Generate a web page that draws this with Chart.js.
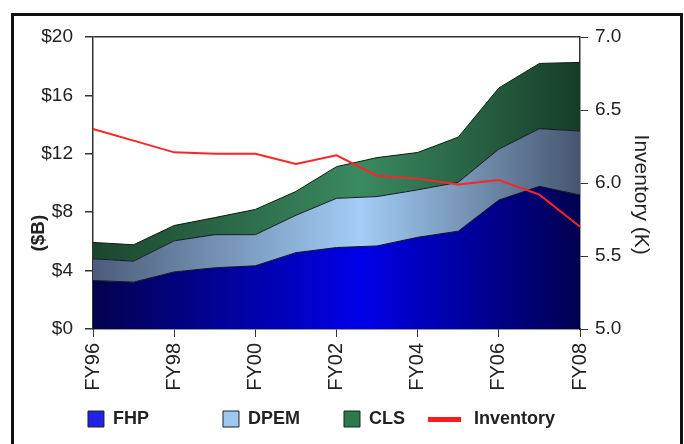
<!DOCTYPE html>
<html>
<head>
<meta charset="utf-8">
<script src="https://cdn.jsdelivr.net/npm/chart.js@4.4.0/dist/chart.umd.min.js"></script>
<style>
  html, body { margin: 0; padding: 0; background: #fff; }
  body { width: 684px; height: 444px; position: relative; overflow: hidden; }
  .frame { position: absolute; left: 11px; top: 13px; width: 666px; height: 440px; border: 3px solid #111; }
  .wrap { position: absolute; left: 0; top: 0; width: 684px; height: 444px; }
</style>
</head>
<body>
<div class="frame"></div>
<div class="wrap"><canvas id="chart"></canvas></div>
<script>
const years = ['FY96', 'FY97', 'FY98', 'FY99', 'FY00', 'FY01', 'FY02', 'FY03', 'FY04', 'FY05', 'FY06', 'FY07', 'FY08']
const fhp = [3.32, 3.21, 3.91, 4.19, 4.33, 5.23, 5.58, 5.69, 6.28, 6.70, 8.83, 9.77, 9.18]
const dpem = [1.49, 1.44, 2.13, 2.27, 2.13, 2.56, 3.37, 3.38, 3.25, 3.35, 3.49, 3.95, 4.38]
const cls = [1.12, 1.12, 1.05, 1.17, 1.73, 1.63, 2.17, 2.67, 2.56, 3.09, 4.19, 4.47, 4.70]
const inventory = [6.37, 6.29, 6.21, 6.20, 6.20, 6.13, 6.19, 6.05, 6.03, 5.99, 6.02, 5.92, 5.70]

const font = "'Liberation Sans', Arial, sans-serif"
const ink = '#222'

// horizontal shading, dark at both ends and light in the middle
const gradient = (left, mid, right) => (context) => {
    const area = context.chart.chartArea
    if (!area) return mid
    const g = context.chart.ctx.createLinearGradient(area.left, 0, area.right, 0)
    g.addColorStop(0, left)
    g.addColorStop(0.55, mid)
    g.addColorStop(1, right)
    return g
}

// legend mark for the red line, offset so it sits left of the text
const invMark = document.createElement('canvas')
invMark.width = 58
invMark.height = 5
const m = invMark.getContext('2d')
m.fillStyle = '#ff1a1a'
m.fillRect(0, 0, 33, 5)

const legendFill = ['#2222e6', '#9cc9f2', '#2a7a4c', '#ff1a1a']
// the legend keeps wide, uneven columns; trailing spaces hold that spacing
const legendGap = [12, 6, 6, 2]

const data = {
    labels: years,
    datasets: [
        {
            label: 'FHP',
            data: fhp,
            backgroundColor: gradient('#03034e', '#0000e8', '#000050'),
            borderColor: '#101820',
            borderWidth: 1,
            fill: 'origin',
            pointRadius: 0,
            pointStyle: 'rect',
            tension: 0
        },
        {
            label: 'DPEM',
            data: dpem,
            backgroundColor: gradient('#4c5c7a', '#a2cdf6', '#46566f'),
            borderColor: '#101820',
            borderWidth: 1,
            fill: '-1',
            pointRadius: 0,
            pointStyle: 'rect',
            tension: 0
        },
        {
            label: 'CLS',
            data: cls,
            backgroundColor: gradient('#1c4630', '#3a8a60', '#163c28'),
            borderColor: '#101a10',
            borderWidth: 1,
            fill: '-1',
            pointRadius: 0,
            pointStyle: 'rect',
            tension: 0
        },
        {
            label: 'Inventory',
            data: inventory,
            yAxisID: 'y1',
            stack: 'inv',
            borderColor: '#ff2424',
            borderWidth: 2,
            fill: false,
            pointRadius: 0,
            pointStyle: invMark,
            tension: 0,
            order: -1
        }
    ]
}

const config = {
    type: 'line',
    data: data,
    options: {
        responsive: true,
        maintainAspectRatio: false,
        animation: false,
        layout: {
            padding: { left: 0, right: 31, top: 37, bottom: 6 }
        },
        plugins: {
            tooltip: { enabled: false },
            legend: {
                position: 'bottom',
                labels: {
                    color: ink,
                    font: { family: font, size: 18, weight: 'bold' },
                    usePointStyle: true,
                    boxWidth: 16,
                    boxHeight: 16,
                    pointStyleWidth: 16,
                    padding: 14,
                    sort: (a, b) => a.datasetIndex - b.datasetIndex,
                    generateLabels: (chart) => {
                        const items = Chart.defaults.plugins.legend.labels.generateLabels(chart)
                        items.forEach(item => {
                            const i = item.datasetIndex
                            item.text = item.text + ' '.repeat(legendGap[i])
                            item.fillStyle = legendFill[i]
                            item.strokeStyle = '#222'
                            item.lineWidth = i === 3 ? 0 : 1
                        })
                        return items
                    }
                }
            }
        },
        scales: {
            x: {
                afterFit: (scale) => { scale.height = 67 },
                grid: {
                    drawOnChartArea: false,
                    tickLength: 8,
                    tickColor: (c) => c.index % 2 ? 'rgba(0,0,0,0)' : '#333'
                },
                border: { color: '#333', width: 1.5 },
                ticks: {
                    autoSkip: false,
                    minRotation: 90,
                    maxRotation: 90,
                    padding: 6,
                    color: ink,
                    font: { family: font, size: 20 },
                    callback: (v, i) => i % 2 ? '' : years[i]
                }
            },
            y: {
                stacked: true,
                min: 0,
                max: 20,
                afterFit: (scale) => { scale.width = 93 },
                grid: {
                    tickLength: 8,
                    color: (c) => c.tick && c.tick.value === 20 ? '#333' : 'rgba(0,0,0,0)',
                    lineWidth: 1.5,
                    tickColor: '#333'
                },
                border: { color: '#333', width: 1.5 },
                ticks: {
                    stepSize: 4,
                    padding: 12,
                    color: ink,
                    font: { family: font, size: 19 },
                    callback: (v) => '$' + v
                },
                title: {
                    display: true,
                    text: '($B)' + ' '.repeat(19),
                    color: ink,
                    font: { family: font, size: 19, weight: 'bold' },
                    padding: { top: 27, bottom: 0 }
                }
            },
            y1: {
                position: 'right',
                min: 5,
                max: 7,
                afterFit: (scale) => { scale.width = 73 },
                grid: {
                    drawOnChartArea: false,
                    tickLength: 8,
                    tickColor: '#333'
                },
                border: { color: '#333', width: 1.5 },
                ticks: {
                    stepSize: 0.5,
                    padding: 7,
                    color: ink,
                    font: { family: font, size: 19 },
                    callback: (v) => v.toFixed(1)
                },
                title: {
                    display: true,
                    text: '    Inventory (K)',
                    color: ink,
                    font: { family: font, size: 21 },
                    padding: { top: 0, bottom: 0 }
                }
            }
        }
    }
}

const ctx = document.getElementById('chart').getContext('2d')
new Chart(ctx, config)
</script>
</body>
</html>
